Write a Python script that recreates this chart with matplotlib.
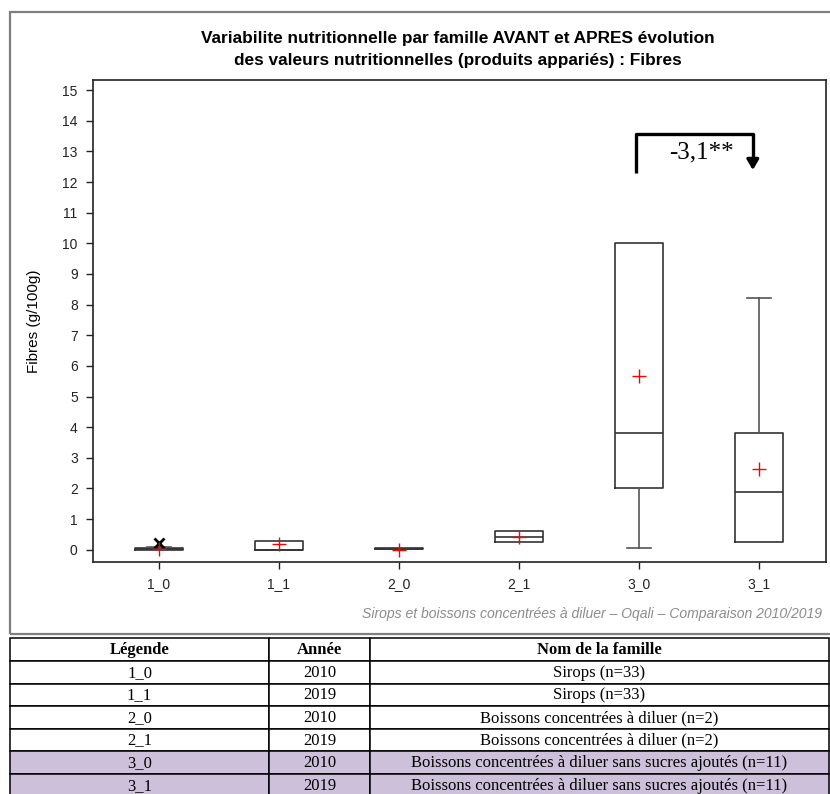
import matplotlib
matplotlib.use("Agg")
import matplotlib.pyplot as plt
from matplotlib.patches import Rectangle

plt.rcParams['font.family'] = ['Liberation Sans', 'DejaVu Sans']

# valeurs (g/100g)
familles = ['1_0', '1_1', '2_0', '2_1', '3_0', '3_1']
q1 = [0.0, 0.0, 0.02, 0.25, 2.0, 0.25]
mediane = [0.02, 0.0, 0.03, 0.43, 3.8, 1.9]
q3 = [0.05, 0.27, 0.05, 0.62, 10.0, 3.8]
whis_bas = [0.0, 0.0, 0.02, 0.25, 0.05, 0.25]
whis_haut = [0.08, 0.27, 0.05, 0.62, 10.0, 8.2]
moyenne = [0.03, 0.2, 0.0, 0.43, 5.67, 2.65]
extremes = [[0.22], [], [], [], [], []]

diff_label = "-3,1**"

# tableau de légende
tab_legende = ['1_0', '1_1', '2_0', '2_1', '3_0', '3_1']
tab_annee = ['2010', '2019', '2010', '2019', '2010', '2019']
tab_famille = ['Sirops (n=33)', 'Sirops (n=33)',
               'Boissons concentrées à diluer (n=2)', 'Boissons concentrées à diluer (n=2)',
               'Boissons concentrées à diluer sans sucres ajoutés (n=11)',
               'Boissons concentrées à diluer sans sucres ajoutés (n=11)']
tab_surligne = [False, False, False, False, True, True]

W, H = 830, 794
fig = plt.figure(figsize=(W / 100, H / 100), dpi=100)

def fx(px):
    return px / W

def fy(py):
    return 1 - py / H

# cadre gris autour du graphique
fig.patches.append(Rectangle((fx(10), fy(634)), fx(840) - fx(10), fy(12) - fy(634),
                             transform=fig.transFigure, fill=False,
                             edgecolor='#7f7f7f', linewidth=1.6))

ax = fig.add_axes([fx(93), fy(562), fx(826) - fx(93), fy(80) - fy(562)])

stats = []
for i in range(len(familles)):
    stats.append({'label': familles[i], 'q1': q1[i], 'med': mediane[i], 'q3': q3[i],
                  'whislo': whis_bas[i], 'whishi': whis_haut[i],
                  'mean': moyenne[i], 'fliers': extremes[i]})

pos = list(range(1, len(familles) + 1))
ax.bxp(stats, positions=pos, widths=0.4, capwidths=0.2, showmeans=True,
       boxprops=dict(color='#333333', linewidth=1.2),
       medianprops=dict(color='#333333', linewidth=1.2),
       whiskerprops=dict(color='#555555', linewidth=1.2),
       capprops=dict(color='#555555', linewidth=1.2),
       meanprops=dict(marker='+', markeredgecolor='red', markersize=10, markeredgewidth=1.0),
       flierprops=dict(marker='x', markeredgecolor='black', markersize=7, markeredgewidth=2))

ax.set_xlim(0.45, 6.56)
ax.set_ylim(-0.4, 15.33)
ax.set_yticks(range(0, 16))
ax.set_xticks(pos)
ax.set_xticklabels(familles)
ax.tick_params(labelsize=10, colors='#222222', length=5, width=1, pad=6)
for s in ax.spines.values():
    s.set_color('#222222')
    s.set_linewidth(1.2)
ax.set_ylabel('Fibres (g/100g)', fontsize=11, labelpad=15)

# titre
titre_font = ['Liberation Sans Narrow', 'Liberation Sans', 'DejaVu Sans']
fig.text(fx(458), fy(38), 'Variabilite nutritionnelle par famille AVANT et APRES évolution',
         ha='center', va='center', fontsize=12.4, fontweight='bold', family=titre_font)
fig.text(fx(458), fy(60), 'des valeurs nutritionnelles (produits appariés) : Fibres',
         ha='center', va='center', fontsize=12.4, fontweight='bold', family=titre_font)

# crochet de comparaison 3_0 -> 3_1
xa, xb = pos[4] - 0.02, pos[5] - 0.05
y_haut, y_bas = 13.56, 12.3
ax.plot([xa, xa, xb, xb], [y_bas, y_haut, y_haut, y_bas + 0.35], color='black',
        linewidth=2.4, solid_joinstyle='round', solid_capstyle='butt')
ax.annotate('', xy=(xb, y_bas), xytext=(xb, y_bas + 0.45),
            arrowprops=dict(arrowstyle='-|>,head_width=0.35,head_length=0.6',
                            color='black', linewidth=2.4))
ax.text((xa + xb) / 2 + 0.06, 12.98, diff_label, ha='center', va='center',
        fontsize=18, family='Liberation Serif')

# source
fig.text(fx(822), fy(614), 'Sirops et boissons concentrées à diluer – Oqali – Comparaison 2010/2019',
         ha='right', va='center', fontsize=10.1, style='italic', color='#8c8c8c')

# tableau
cols = [10, 269, 370, 829]
top, head_h, row_h = 638, 23, 22.6
tab_font = ['Liberation Serif', 'DejaVu Serif']

def cell(x0, x1, y0, y1, txt, bold=False, fc='white'):
    fig.patches.append(Rectangle((fx(x0), fy(y1)), fx(x1) - fx(x0), fy(y0) - fy(y1),
                                 transform=fig.transFigure, facecolor=fc,
                                 edgecolor='black', linewidth=1.1))
    fig.text(fx((x0 + x1) / 2), fy((y0 + y1) / 2 + 0.5), txt, ha='center', va='center',
             fontsize=12, fontweight='bold' if bold else 'normal', family=tab_font)

for j, h in enumerate(['Légende', 'Année', 'Nom de la famille']):
    cell(cols[j], cols[j + 1], top, top + head_h, h, bold=True)

for i in range(len(tab_legende)):
    y0 = top + head_h + i * row_h
    fc = '#ccc0da' if tab_surligne[i] else 'white'
    for j, v in enumerate([tab_legende[i], tab_annee[i], tab_famille[i]]):
        cell(cols[j], cols[j + 1], y0, y0 + row_h, v, fc=fc)

fig.savefig('out.png', dpi=100)
